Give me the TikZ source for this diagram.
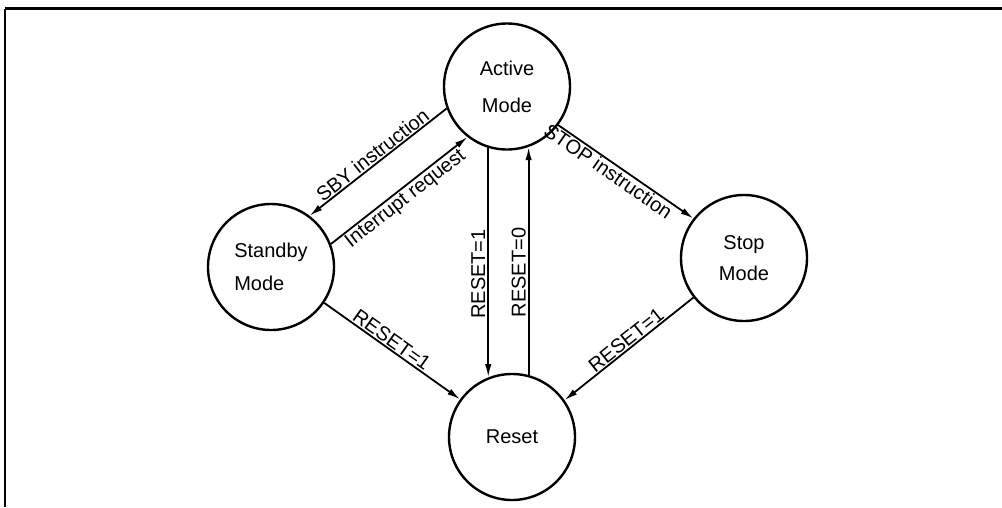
\documentclass[tikz,border=0pt]{standalone}
\usepackage{fontspec}
\setmainfont{Liberation Sans}
\usetikzlibrary{arrows.meta}
\begin{document}
\begin{tikzpicture}[x=1pt,y=-1pt,
  state/.style={circle,draw,line width=2.4pt,minimum size=126pt,inner sep=0pt,
    font=\fontsize{20}{24}\selectfont},
  trans/.style={line width=1.8pt,-{Latex[length=13pt,width=6.5pt]}},
  lbl/.style={font=\fontsize{20}{24}\selectfont,inner sep=1pt,sloped},
  vlbl/.style={font=\fontsize{20}{24}\selectfont,inner sep=2pt,anchor=south,rotate=90}]
\useasboundingbox (0,0) rectangle (1002,507);
% frame
\draw[line width=3pt] (5,8.5) -- (1002,8.5);
\draw[line width=2pt] (5,8.5) -- (5,507);
% states
\node[state,align=center,font=\fontsize{20}{37}\selectfont] (act) at (507,86.5) {Active\\Mode};
\node[state,align=left,font=\fontsize{20}{33}\selectfont] (sby) at (271,267) {Standby\\Mode};
\node[state,align=center,font=\fontsize{20}{31}\selectfont] (stp) at (744,258) {Stop\\Mode};
\node[state] (rst) at (512,437) {Reset};
% transitions
\draw[trans] (act.200.9) -- node[lbl,above,pos=0.5] {SBY instruction} (sby.53.1);
\draw[trans] (sby.21.5) -- node[lbl,below,pos=0.5] {Interrupt request} (act.232.5);
\draw[trans] (act.323.2) -- node[lbl,below,pos=0.41] {STOP instruction} (stp.142.4);
\draw[trans] (sby.326.5) -- node[lbl,above,pos=0.46] {RESET=1} (rst.144.6);
\draw[trans] (stp.218.1) -- node[lbl,above,pos=0.48] {RESET=1} (rst.35.8);
\draw[trans] (act.253.9) -- node[vlbl,pos=0.55] {RESET=1} (act.253.9 |- rst.111.1);
\draw[trans] (rst.75.5) -- node[vlbl,pos=0.45] {RESET=0} (rst.75.5 |- act.289.5);
\end{tikzpicture}
\end{document}
